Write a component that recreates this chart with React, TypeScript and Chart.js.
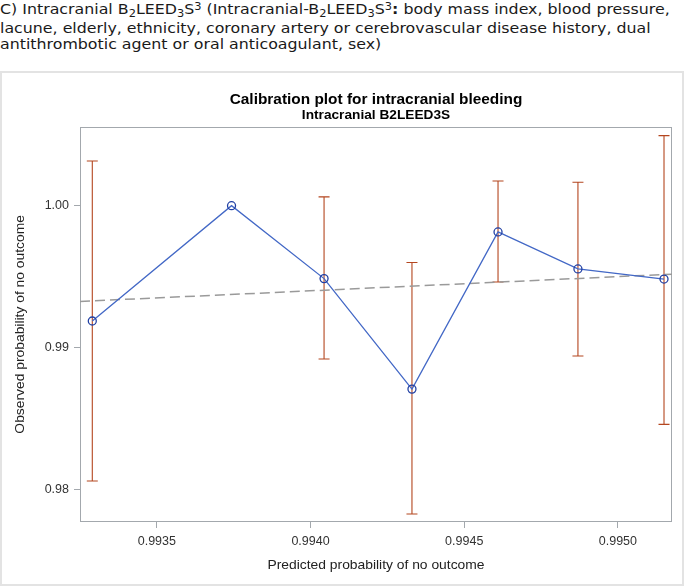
import React, { useEffect, useRef } from "react";
import { Chart, registerables } from "chart.js";

Chart.register(...registerables);

// ---- data ----
const predicted = [0.99329, 0.993743, 0.994044, 0.99433, 0.99461, 0.99487, 0.99515];
const observed = [0.99187, 1.0, 0.99486, 0.98707, 0.99815, 0.99554, 0.99483];
const ciLower: (number | null)[] = [0.98059, null, 0.98919, 0.97826, 0.99462, 0.9894, 0.98458];
const ciUpper: (number | null)[] = [1.00315, null, 1.00062, 0.996, 1.00174, 1.00165, 1.00494];
const xTicks = [0.9935, 0.994, 0.9945, 0.995];
const yTicks = [0.98, 0.99, 1.0];
const xRange = [0.99325, 0.995176];
const yRange = [0.9777, 1.00557];
const titleText = "Calibration plot for intracranial bleeding";
const subtitleText = "Intracranial B2LEED3S";
const xTitle = "Predicted probability of no outcome";
const yTitle = "Observed probability of no outcome";

const CHART_FONT = "'Liberation Sans', Arial, sans-serif";

function stretchedText(ctx: any, text: string, x: number, y: number, sx: number, rot = 0) {
  ctx.save();
  ctx.translate(x, y);
  if (rot) ctx.rotate(rot);
  ctx.scale(sx, 1);
  ctx.fillText(text, 0, 0);
  ctx.restore();
}

export default function App() {
  const ref = useRef<HTMLCanvasElement>(null);

  useEffect(() => {
    document.body.style.margin = "0";
    document.body.style.background = "#ffffff";
    const canvas = ref.current;
    if (!canvas) return;

    const errorBars = {
      id: "errorBars",
      beforeDatasetsDraw(chart: any) {
        const { ctx, scales } = chart;
        const xs = scales.x;
        const ys = scales.y;
        ctx.save();
        ctx.strokeStyle = "#b4461f";
        ctx.lineWidth = 1.1;
        for (let i = 0; i < predicted.length; i++) {
          const lo = ciLower[i];
          const hi = ciUpper[i];
          if (lo == null || hi == null) continue;
          const x = xs.getPixelForValue(predicted[i]);
          const yl = ys.getPixelForValue(lo);
          const yh = ys.getPixelForValue(hi);
          ctx.beginPath();
          ctx.moveTo(x, yl);
          ctx.lineTo(x, yh);
          ctx.moveTo(x - 5.5, yl);
          ctx.lineTo(x + 5.5, yl);
          ctx.moveTo(x - 5.5, yh);
          ctx.lineTo(x + 5.5, yh);
          ctx.stroke();
        }
        ctx.restore();
      },
    };

    const decorations = {
      id: "decorations",
      beforeDraw(chart: any) {
        const { ctx, chartArea } = chart;
        ctx.save();
        ctx.strokeStyle = "#a3a8ad";
        ctx.lineWidth = 1;
        ctx.strokeRect(
          Math.round(chartArea.left) + 0.5,
          Math.round(chartArea.top) + 0.5,
          Math.round(chartArea.right - chartArea.left) - 1,
          Math.round(chartArea.bottom - chartArea.top) - 1
        );
        ctx.restore();
      },
      afterDraw(chart: any) {
        const { ctx, chartArea } = chart;
        const cx = (chartArea.left + chartArea.right) / 2;
        const cy = (chartArea.top + chartArea.bottom) / 2;
        ctx.save();
        ctx.fillStyle = "#000000";
        ctx.textAlign = "center";
        ctx.textBaseline = "alphabetic";
        ctx.font = `bold 14px ${CHART_FONT}`;
        stretchedText(ctx, titleText, cx, 32.5, 1.1);
        ctx.font = `bold 12px ${CHART_FONT}`;
        stretchedText(ctx, subtitleText, cx, 48, 1.14);
        ctx.fillStyle = "#222222";
        ctx.font = `13px ${CHART_FONT}`;
        stretchedText(ctx, xTitle, cx, 498, 1.065);
        stretchedText(ctx, yTitle, 23.5, cy, 1.065, -Math.PI / 2);
        ctx.restore();
      },
    };

    const chart = new Chart(canvas, {
      type: "line",
      data: {
        datasets: [
          {
            label: "Observed",
            data: predicted.map((p, i) => ({ x: p, y: observed[i] })),
            borderColor: "#4368c6",
            borderWidth: 1.3,
            pointRadius: 4,
            pointBorderWidth: 1.3,
            pointBorderColor: "#2140a4",
            pointBackgroundColor: "rgba(0,0,0,0)",
            tension: 0,
            fill: false,
          },
          {
            label: "Ideal",
            data: [
              { x: xRange[0], y: xRange[0] },
              { x: xRange[1], y: xRange[1] },
            ],
            borderColor: "#9a9a9a",
            borderWidth: 1.5,
            borderDash: [10, 5],
            pointRadius: 0,
            fill: false,
          },
        ],
      },
      options: {
        responsive: false,
        animation: false,
        devicePixelRatio: 1,
        layout: { padding: { left: 0, right: 13, top: 55.7, bottom: 0 } },
        plugins: {
          legend: { display: false },
          tooltip: { enabled: false },
          title: { display: false },
        },
        scales: {
          x: {
            type: "linear",
            min: xRange[0],
            max: xRange[1],
            afterBuildTicks: (axis: any) => {
              axis.ticks = xTicks.map((v) => ({ value: v }));
            },
            afterFit: (axis: any) => {
              axis.height = 64;
            },
            border: { display: false },
            grid: {
              display: true,
              drawOnChartArea: false,
              drawTicks: true,
              tickLength: 6,
              color: "#a3a8ad",
            },
            ticks: {
              padding: 6,
              maxRotation: 0,
              autoSkip: false,
              color: "#333333",
              font: { family: CHART_FONT, size: 12.5 },
              callback: (v: any) => Number(v).toFixed(4),
            },
          },
          y: {
            type: "linear",
            min: yRange[0],
            max: yRange[1],
            afterBuildTicks: (axis: any) => {
              axis.ticks = yTicks.map((v) => ({ value: v }));
            },
            afterFit: (axis: any) => {
              axis.width = 80;
            },
            border: { display: false },
            grid: {
              display: true,
              drawOnChartArea: false,
              drawTicks: true,
              tickLength: 6,
              color: "#a3a8ad",
            },
            ticks: {
              padding: 5,
              autoSkip: false,
              color: "#333333",
              font: { family: CHART_FONT, size: 12.5 },
              callback: (v: any) => Number(v).toFixed(2),
            },
          },
        },
      },
      plugins: [errorBars, decorations],
    } as any);

    return () => chart.destroy();
  }, []);

  const sub = (t: string) => (
    <span style={{ fontSize: "0.72em", position: "relative", top: "0.28em" }}>{t}</span>
  );
  const sup = (t: string) => (
    <span style={{ fontSize: "0.72em", position: "relative", top: "-0.45em" }}>{t}</span>
  );

  return (
    <div style={{ position: "relative", width: 685, height: 586, background: "#fff", overflow: "hidden" }}>
      <div
        style={{
          position: "absolute",
          left: 0,
          top: 1,
          fontFamily: "'DejaVu Sans', Verdana, sans-serif",
          fontSize: 13.5,
          lineHeight: "16.5px",
          color: "#1a1a1a",
          whiteSpace: "nowrap",
          transform: "scaleX(1.172)",
          transformOrigin: "0 0",
        }}
      >
        <div>
          C) Intracranial B{sub("2")}LEED{sub("3")}S{sup("3")} (Intracranial-B{sub("2")}LEED{sub("3")}S{sup("3")}
          <b>:</b> body mass index, blood pressure,
        </div>
        <div>lacune, elderly, ethnicity, coronary artery or cerebrovascular disease history, dual</div>
        <div>antithrombotic agent or oral anticoagulant, sex)</div>
      </div>
      <div
        style={{
          position: "absolute",
          left: 0,
          top: 71,
          width: 684,
          height: 515,
          boxSizing: "border-box",
          border: "2px solid #e3e3e3",
        }}
      />
      <canvas
        ref={ref}
        width={685}
        height={515}
        style={{ position: "absolute", left: 0, top: 71, width: 685, height: 515 }}
      />
    </div>
  );
}
